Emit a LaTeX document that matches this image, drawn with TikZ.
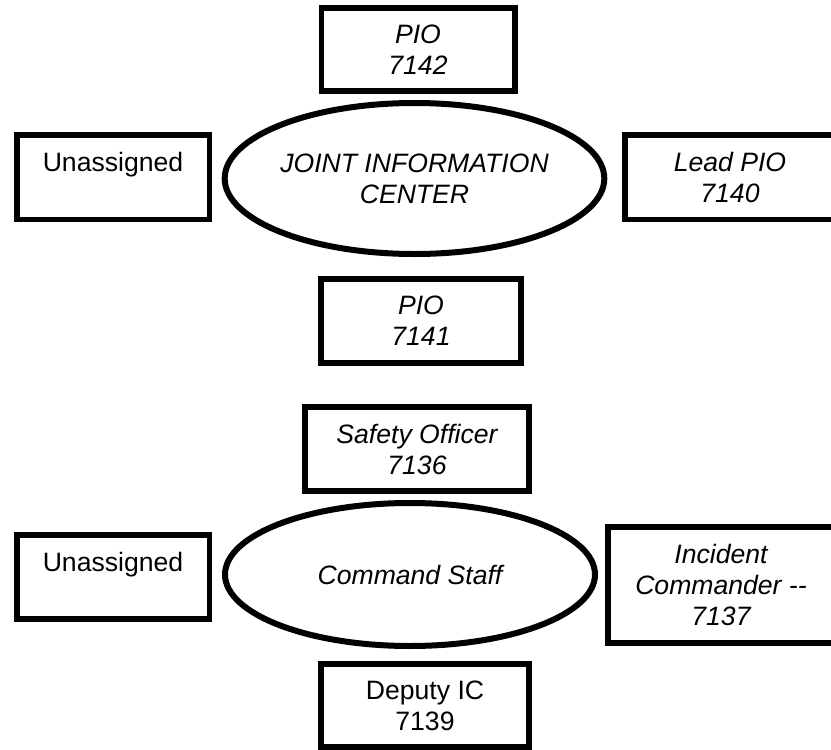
\documentclass[tikz,border=0pt]{standalone}
\usepackage{fontspec}
\setmainfont{Liberation Sans}
\usetikzlibrary{shapes.geometric}
\begin{document}
\begin{tikzpicture}[x=0.5pt,y=-0.5pt,
  lbl/.style={font=\fontsize{13.3pt}{15.5pt}\selectfont, align=center, inner sep=0pt, outer sep=0pt},
  ilbl/.style={font=\fontsize{13.3pt}{15.5pt}\selectfont\itshape, align=center, inner sep=0pt, outer sep=0pt},
  box/.style={lbl, draw, rectangle, line width=2.75pt},
  ibox/.style={ilbl, draw, rectangle, line width=2.75pt},
  oval/.style={ilbl, draw, ellipse, line width=3pt}]
\useasboundingbox (0,0) rectangle (831,750);
% Joint Information Center group
\node[ibox, minimum width=96.75pt, minimum height=41.5pt] (pio42) at (418,49.5) {PIO\\7142};
\node[oval, minimum width=189.5pt, minimum height=75.5pt] (jic) at (414.5,178.5) {JOINT INFORMATION\\CENTER};
\node[box, minimum width=96.25pt, minimum height=42.25pt] (un1) at (113,177) {Unassigned\\\mbox{}};
\node[ibox, minimum width=105pt, minimum height=42.25pt] (lead) at (730,177) {Lead PIO\\7140};
\node[ibox, minimum width=100pt, minimum height=42pt] (pio41) at (421,321) {PIO\\7141};
% Command Staff group
\node[ibox, minimum width=112pt, minimum height=42pt] (safety) at (417,449) {Safety Officer\\7136};
\node[oval, minimum width=185pt, minimum height=71.5pt] (cs) at (410,574.5) {Command Staff};
\node[box, minimum width=96.25pt, minimum height=42pt] (un2) at (113,577) {Unassigned\\\mbox{}};
\node[ibox, minimum width=113pt, minimum height=58pt] (ic) at (721,585) {Incident\\Commander -{}-\\7137};
\node[box, minimum width=104pt, minimum height=41.5pt] (dep) at (425,705.5) {Deputy IC\\7139};
\end{tikzpicture}
\end{document}
